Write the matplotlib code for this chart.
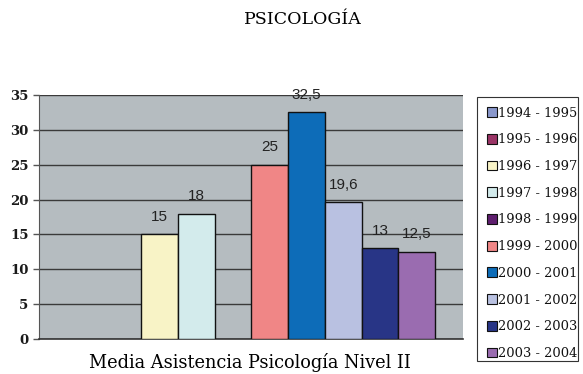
import numpy as np
import matplotlib
matplotlib.use("Agg")
import matplotlib.pyplot as plt
from matplotlib.patches import Patch, Rectangle

# ---- data ----
series = ["1994 - 1995", "1995 - 1996", "1996 - 1997", "1997 - 1998", "1998 - 1999",
          "1999 - 2000", "2000 - 2001", "2001 - 2002", "2002 - 2003", "2003 - 2004"]
values = [np.nan, np.nan, 15, 18, np.nan, 25, 32.5, 19.6, 13, 12.5]
colors = ["#8a98cc", "#9a3466", "#f8f3c6", "#d3ebec", "#5e1e6e",
          "#f08686", "#0d6cb8", "#b9c1e1", "#283586", "#9a6cb0"]
yticks = [0, 5, 10, 15, 20, 25, 30, 35]
title = "PSICOLOGÍA"
xlabel = "Media Asistencia Psicología Nivel II"

W, H = 583, 374
fig = plt.figure(figsize=(W / 100, H / 100), dpi=100)
ax = fig.add_axes([39 / W, 1 - 339 / H, (463 - 39) / W, (339 - 95) / H])
ax.set_facecolor("#b5bcc0")

x = np.arange(len(series))
ax.bar(x, values, width=1.0, color=colors, edgecolor="#111111", linewidth=1.0, zorder=3)

for xi, v in zip(x, values):
    if not np.isnan(v):
        lab = (f"{v:g}").replace(".", ",")
        ax.annotate(lab, (xi, v), xytext=(0, 7.5), textcoords="offset points",
                    ha="center", va="bottom", fontsize=11, color="#222222",
                    family="Liberation Sans")

ax.set_xlim(-1.28, 10.26)
ax.set_ylim(0, 35)
ax.set_yticks(yticks)
ax.set_yticklabels([str(t) for t in yticks], family="DejaVu Serif",
                   fontweight="bold", fontsize=9.5, color="#1a1a1a")
ax.set_xticks([])
ax.yaxis.grid(True, color="#3a3a3a", linewidth=1.0, zorder=1)
ax.set_axisbelow(True)
for s in ["top", "right"]:
    ax.spines[s].set_visible(False)
ax.spines["left"].set_color("#555555")
ax.spines["bottom"].set_color("#333333")
ax.spines["bottom"].set_linewidth(1.2)
ax.tick_params(axis="y", length=4.5, width=1, color="#555555", pad=3)

fig.text(303 / W, 1 - 19 / H, title, ha="center", va="center",
         family="DejaVu Serif", fontsize=12.5, color="#000000")
fig.text(250 / W, 1 - 362 / H, xlabel, ha="center", va="center",
         family="DejaVu Serif", fontsize=12.8, color="#000000")

# legend frame drawn separately (box 477..578 x 97..361 px)
frame = Rectangle((477 / W, 1 - 361 / H), (578 - 477) / W, (361 - 97) / H,
                  transform=fig.transFigure, facecolor="white",
                  edgecolor="#333333", linewidth=0.8, zorder=0)
fig.patches.append(frame)

handles = [Patch(facecolor=c, edgecolor="#111111", linewidth=0.8) for c in colors]
leg = fig.legend(handles, series, loc="upper left",
                 bbox_to_anchor=(477 / W, 1 - 97 / H), borderaxespad=0,
                 frameon=False,
                 prop={"family": "DejaVu Serif", "size": 9.4},
                 handlelength=0.78, handleheight=0.78, handletextpad=0.1,
                 labelspacing=1.05, borderpad=0.74)
clip = Rectangle((477 / W, 1 - 361 / H), (578 - 477) / W, (361 - 97) / H,
                 transform=fig.transFigure, facecolor="none", edgecolor="none")
for t in leg.get_texts():
    t.set_color("#111111")
    t.set_clip_path(clip)

fig.savefig("out.png", dpi=100)
